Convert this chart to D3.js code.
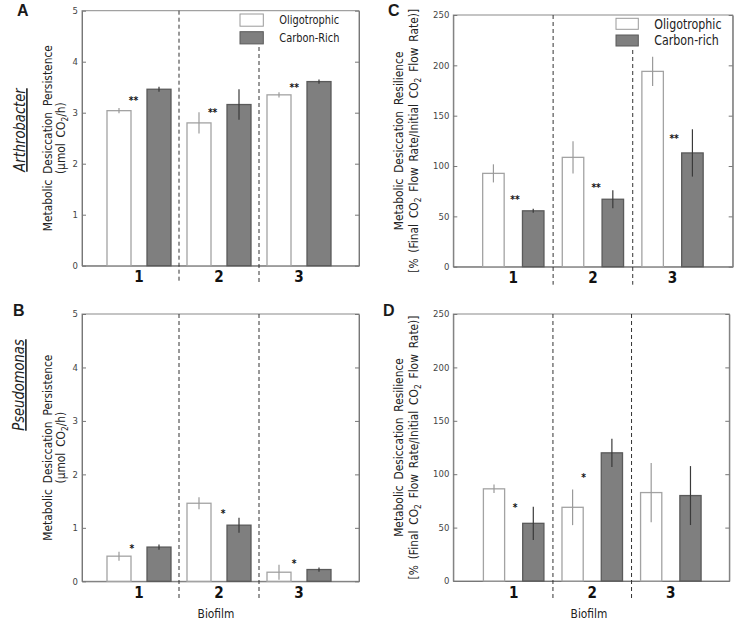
<!DOCTYPE html>
<html><head><meta charset="utf-8">
<script src="https://cdn.jsdelivr.net/npm/d3@7"></script>
<style>body{margin:0;background:#fff}svg{display:block}</style>
</head><body>
<script>
// ---------- data ----------
const categories = [1, 2, 3];
const categoryLabels = ["1", "2", "3"];
const persistTicks = [0, 1, 2, 3, 4, 5];
const resilTicks = [0, 50, 100, 150, 200, 250];
const legendA = ["Oligotrophic", "Carbon-Rich"];
const legendC = ["Oligotrophic", "Carbon-rich"];

// A: Arthrobacter persistence
const aOligo = [3.04, 2.80, 3.35];
const aOligoErr = [0.05, 0.21, 0.05];
const aCarbon = [3.46, 3.16, 3.61];
const aCarbonErr = [0.05, 0.30, 0.04];
const aStarX = [0.93, 1.92, 2.94];
const aStarY = [3.29, 3.06, 3.56];
const aStarTxt = ["**", "**", "**"];

// B: Pseudomonas persistence
const bOligo = [0.47, 1.46, 0.17];
const bOligoErr = [0.085, 0.11, 0.14];
const bCarbon = [0.64, 1.05, 0.22];
const bCarbonErr = [0.05, 0.14, 0.04];
const bStarX = [0.91, 2.05, 2.94];
const bStarY = [0.67, 1.32, 0.38];
const bStarTxt = ["*", "*", "*"];

// C: Arthrobacter resilience
const cOligo = [92.7, 108.6, 194];
const cOligoErr = [9, 16, 14.6];
const cCarbon = [55.5, 67, 113];
const cCarbonErr = [2, 9, 23.5];
const cStarX = [1.02, 2.04, 3.02];
const cStarY = [69.5, 82.1, 130.8];
const cStarTxt = ["**", "**", "**"];

// D: Pseudomonas resilience
const dOligo = [86.3, 69, 82.8];
const dOligoErr = [4, 16.7, 27.8];
const dCarbon = [54, 120, 80];
const dCarbonErr = [15.6, 13.3, 27.6];
const dStarX = [1.02, 1.89];
const dStarY = [72, 100];
const dStarTxt = ["*", "*"];

// ---------- drawing ----------
const W = 750, H = 641, SX = 0.82;
const FONT = "DejaVu Sans, Verdana, sans-serif";
const svg = d3.select("body").append("svg").attr("width", W).attr("height", H)
  .style("font-family", FONT);

function stext(parent, x, y, rot, sx) {
  return parent.append("text")
    .attr("transform", `translate(${x},${y}) rotate(${rot}) scale(${sx},1)`);
}
// parts: strings are normal text, one-element arrays are subscripts
function rich(t, parts) {
  let shifted = false;
  parts.forEach(p => {
    if (Array.isArray(p)) {
      t.append("tspan").attr("dy", 3).attr("font-size", "70%").text(p[0]);
      shifted = true;
    } else {
      const ts = t.append("tspan").text(p);
      if (shifted) { ts.attr("dy", -3); shifted = false; }
    }
  });
  return t;
}

const panels = [
  {id: "A", f: {l: 82, r: 359, t: 10.7, b: 265.7}, xd: [0.2875, 3.75], ymax: 5, ticks: persistTicks,
   o: aOligo, oe: aOligoErr, c: aCarbon, ce: aCarbonErr, sx: aStarX, sy: aStarY, st: aStarTxt, bw: 0.3,
   lab: {x: 17, y: 15.5}, legend: legendA, legPos: {bx: 240, tx: 279.3, y1: 14, y2: 31.7, bw: 23.3, bh: 12.2, fs: 12},
   sep2Top: 47, catY: 282, species: {text: "Arthrobacter", x: 25, y: 130},
   ylab: {x1: 52, x2: 65, l1: "Metabolic Desiccation Persistence", l2: ["(μmol CO", ["2"], "/h)"]}},
  {id: "B", f: {l: 82, r: 359, t: 314, b: 581.3}, xd: [0.2875, 3.75], ymax: 5, ticks: persistTicks,
   o: bOligo, oe: bOligoErr, c: bCarbon, ce: bCarbonErr, sx: bStarX, sy: bStarY, st: bStarTxt, bw: 0.3,
   lab: {x: 13, y: 316}, catY: 598, species: {text: "Pseudomonas", x: 24, y: 385},
   biofilm: {x: 216, y: 618},
   ylab: {x1: 52, x2: 65, l1: "Metabolic Desiccation Persistence", l2: ["(μmol CO", ["2"], "/h)"]}},
  {id: "C", f: {l: 453.3, r: 732.7, t: 15, b: 266.7}, xd: [0.246, 3.756], ymax: 250, ticks: resilTicks,
   o: cOligo, oe: cOligoErr, c: cCarbon, ce: cCarbonErr, sx: cStarX, sy: cStarY, st: cStarTxt, bw: 0.27,
   lab: {x: 388, y: 15.5}, legend: legendC, legPos: {bx: 616, tx: 654.3, y1: 18.3, y2: 35, bw: 22.3, bh: 11, fs: 13.5},
   sep2Top: 50, catY: 283,
   ylab: {x1: 403, x2: 418, l1: "Metabolic Desiccation Resilience", l2: ["[% (Final CO", ["2"], " Flow Rate/Initial CO", ["2"], " Flow Rate)]"]}},
  {id: "D", f: {l: 453.3, r: 729.3, t: 314, b: 581}, xd: [0.232, 3.744], ymax: 250, ticks: resilTicks,
   o: dOligo, oe: dOligoErr, c: dCarbon, ce: dCarbonErr, sx: dStarX, sy: dStarY, st: dStarTxt, bw: 0.27,
   lab: {x: 383, y: 315.5}, catY: 598, biofilm: {x: 589, y: 618},
   ylab: {x1: 403, x2: 418, l1: "Metabolic Desiccation Resilience", l2: ["[% (Final CO", ["2"], " Flow Rate/Initial CO", ["2"], " Flow Rate)]"]}}
];

panels.forEach(p => {
  const g = svg.append("g");
  const x = d3.scaleLinear().domain(p.xd).range([p.f.l, p.f.r]);
  const y = d3.scaleLinear().domain([0, p.ymax]).range([p.f.b, p.f.t]);

  // frame
  g.append("rect").attr("x", p.f.l).attr("y", p.f.t)
    .attr("width", p.f.r - p.f.l).attr("height", p.f.b - p.f.t)
    .attr("fill", "none").attr("stroke", "#8a8a8a").attr("stroke-width", 1);

  // axes
  const yl = g.append("g").attr("transform", `translate(${p.f.l},0)`)
    .call(d3.axisLeft(y).tickValues(p.ticks).tickFormat(d3.format("d"))
      .tickSizeInner(-4).tickSizeOuter(0).tickPadding(4));
  const yr = g.append("g").attr("transform", `translate(${p.f.r},0)`)
    .call(d3.axisRight(y).tickValues(p.ticks).tickSizeInner(-4).tickSizeOuter(0).tickFormat(""));
  const xb = g.append("g").attr("transform", `translate(0,${p.f.b})`)
    .call(d3.axisBottom(x).tickValues([]).tickSizeOuter(0));
  [yl, yr, xb].forEach(a => {
    a.select(".domain").attr("stroke", "#777");
    a.selectAll(".tick line").attr("stroke", "#777");
    a.selectAll("text").attr("font-family", FONT).attr("font-size", 8.5).attr("fill", "#444");
  });

  // separators
  [1.5, 2.5].forEach((s, i) => {
    g.append("line").attr("x1", x(s)).attr("x2", x(s))
      .attr("y1", (i === 1 && p.sep2Top) ? p.sep2Top : p.f.t).attr("y2", p.f.b + 18)
      .attr("stroke", "#333").attr("stroke-width", 1).attr("stroke-dasharray", "4,3");
  });

  // bars
  const series = [
    {v: p.o, e: p.oe, off: -0.25, fill: "#ffffff", stroke: "#a3a3a3", err: "#9a9a9a"},
    {v: p.c, e: p.ce, off: 0.25, fill: "#7f7f7f", stroke: "#5a5a5a", err: "#3a3a3a"}
  ];
  series.forEach(s => {
    const bw = x(p.xd[0] + p.bw) - x(p.xd[0]);
    g.selectAll(null).data(categories).enter().append("rect")
      .attr("x", (d) => x(d + s.off) - bw / 2)
      .attr("y", (d, i) => y(s.v[i]))
      .attr("width", bw)
      .attr("height", (d, i) => y(0) - y(s.v[i]))
      .attr("fill", s.fill).attr("stroke", s.stroke).attr("stroke-width", 1.3);
    g.selectAll(null).data(categories).enter().append("line")
      .attr("x1", d => x(d + s.off)).attr("x2", d => x(d + s.off))
      .attr("y1", (d, i) => y(s.v[i] - s.e[i])).attr("y2", (d, i) => y(s.v[i] + s.e[i]))
      .attr("stroke", s.err).attr("stroke-width", 1.2);
  });

  // significance stars
  p.sx.forEach((sxv, i) => {
    stext(g, x(sxv), y(p.sy[i]) + 6.5, 0, SX)
      .attr("text-anchor", "middle").attr("font-size", 11).attr("font-weight", "bold")
      .attr("fill", "#111").text(p.st[i]);
  });

  // category labels
  categories.forEach((c, i) => {
    stext(g, x(c), p.catY, 0, 0.85).attr("text-anchor", "middle")
      .attr("font-size", 16).attr("font-weight", "bold").attr("fill", "#111").text(categoryLabels[i]);
  });

  // panel letter
  g.append("text").attr("x", p.lab.x).attr("y", p.lab.y)
    .attr("font-family", "Liberation Sans, Arial, sans-serif").attr("font-weight", "bold")
    .attr("font-size", 16).attr("fill", "#1a1a1a").text(p.id);

  // y labels
  const cy = (p.f.t + p.f.b) / 2;
  stext(g, p.ylab.x1, cy, -90, SX).attr("text-anchor", "middle").attr("font-size", 13)
    .attr("word-spacing", 3).attr("fill", "#222").text(p.ylab.l1);
  rich(stext(g, p.ylab.x2, cy, -90, SX).attr("text-anchor", "middle").attr("font-size", 13)
    .attr("word-spacing", 3).attr("fill", "#222"), p.ylab.l2);

  if (p.species) {
    stext(g, p.species.x, p.species.y, -90, SX).attr("text-anchor", "middle")
      .attr("font-size", 16).attr("font-style", "italic").attr("text-decoration", "underline")
      .attr("fill", "#222").text(p.species.text);
  }
  if (p.biofilm) {
    stext(g, p.biofilm.x, p.biofilm.y, 0, SX).attr("text-anchor", "middle")
      .attr("font-size", 13).attr("fill", "#222").text("Biofilm");
  }
  if (p.legend) {
    const L = p.legPos;
    [[L.y1, "#ffffff", "#9a9a9a"], [L.y2, "#7f7f7f", "#5a5a5a"]].forEach((r, i) => {
      g.append("rect").attr("x", L.bx).attr("y", r[0]).attr("width", L.bw).attr("height", L.bh)
        .attr("fill", r[1]).attr("stroke", r[2]).attr("stroke-width", 1);
      stext(g, L.tx, r[0] + L.bh / 2 + L.fs * 0.36, 0, SX).attr("font-size", L.fs)
        .attr("fill", "#222").text(p.legend[i]);
    });
  }
});
</script>
</body></html>
